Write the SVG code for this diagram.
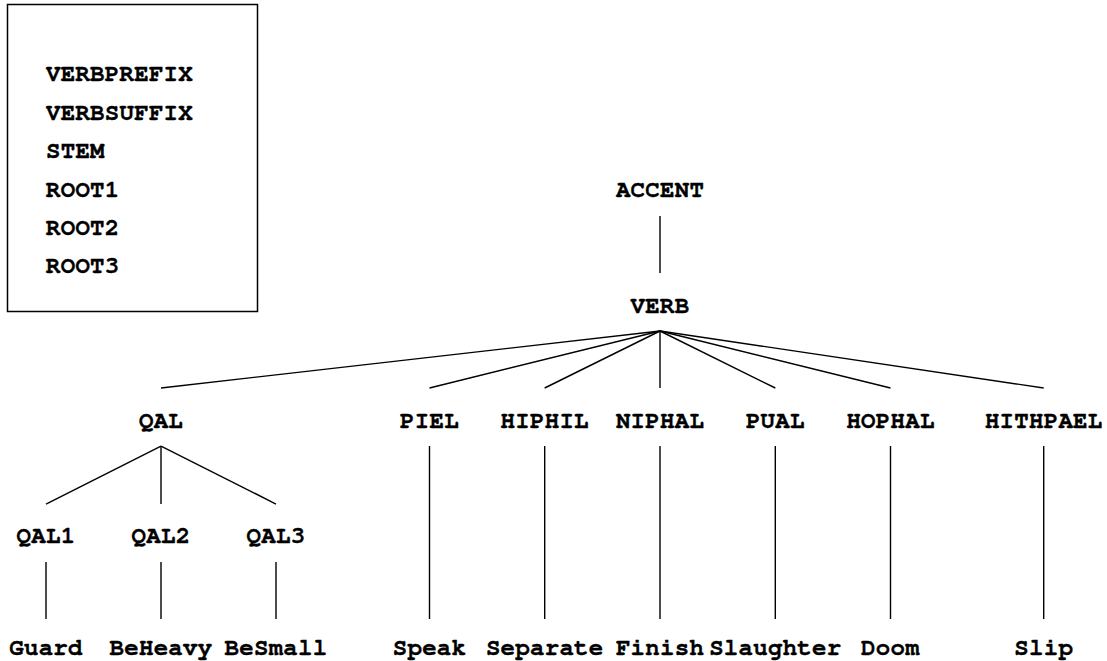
<svg xmlns="http://www.w3.org/2000/svg" width="1107" height="661" viewBox="0 0 1107 661">
  <style>
    text { font-family: "Nimbus Mono PS", "FreeMono", "Liberation Mono", monospace; font-weight: bold; font-size: 24px; letter-spacing: 0.3px; fill: #000; stroke: #000; stroke-width: 0.35; }
    .n text { text-anchor: middle; }
    .edge { stroke: #000; stroke-width: 1.4; fill: none; }
  </style>
  <rect width="1107" height="661" fill="#fff"/>

  <g id="legend">
    <rect x="7.5" y="4.5" width="250" height="307" fill="none" stroke="#000" stroke-width="1.5"/>
    <text x="46" y="81">VERBPREFIX</text>
    <text x="46" y="119.5">VERBSUFFIX</text>
    <text x="46" y="158">STEM</text>
    <text x="46" y="196.5">ROOT1</text>
    <text x="46" y="235">ROOT2</text>
    <text x="46" y="273">ROOT3</text>
  </g>

  <g id="connectors" class="edge">
    <line class="edge" x1="660" y1="216" x2="660" y2="273"/>
    <line class="edge" x1="660" y1="331" x2="161" y2="388"/>
    <line class="edge" x1="660" y1="331" x2="429.5" y2="388"/>
    <line class="edge" x1="660" y1="331" x2="544.7" y2="388"/>
    <line class="edge" x1="660" y1="331" x2="660" y2="388"/>
    <line class="edge" x1="660" y1="331" x2="775.3" y2="388"/>
    <line class="edge" x1="660" y1="331" x2="890.5" y2="388"/>
    <line class="edge" x1="660" y1="331" x2="1043.7" y2="388"/>
    <line class="edge" x1="161" y1="446" x2="46" y2="504"/>
    <line class="edge" x1="161" y1="446" x2="161" y2="504"/>
    <line class="edge" x1="161" y1="446" x2="276" y2="504"/>
    <line class="edge" x1="46" y1="562" x2="46" y2="619"/>
    <line class="edge" x1="161" y1="562" x2="161" y2="619"/>
    <line class="edge" x1="276" y1="562" x2="276" y2="619"/>
    <line class="edge" x1="429.5" y1="446" x2="429.5" y2="619"/>
    <line class="edge" x1="544.7" y1="446" x2="544.7" y2="619"/>
    <line class="edge" x1="660" y1="446" x2="660" y2="619"/>
    <line class="edge" x1="775.3" y1="446" x2="775.3" y2="619"/>
    <line class="edge" x1="890.5" y1="446" x2="890.5" y2="619"/>
    <line class="edge" x1="1043.7" y1="446" x2="1043.7" y2="619"/>
  </g>

  <g class="n">
    <g id="accent"><text x="660" y="197">ACCENT</text></g>
    <g id="verb"><text x="660" y="313">VERB</text></g>
    <g id="qal"><text x="161" y="427.5">QAL</text></g>
    <g id="piel"><text x="429.5" y="427.5">PIEL</text></g>
    <g id="hiphil"><text x="544.7" y="427.5">HIPHIL</text></g>
    <g id="niphal"><text x="660" y="427.5">NIPHAL</text></g>
    <g id="pual"><text x="775.3" y="427.5">PUAL</text></g>
    <g id="hophal"><text x="890.5" y="427.5">HOPHAL</text></g>
    <g id="hithpael"><text x="1043.7" y="427.5">HITHPAEL</text></g>
    <g id="qal1"><text x="46" y="542.5">QAL1</text></g>
    <g id="qal2"><text x="161" y="542.5">QAL2</text></g>
    <g id="qal3"><text x="276" y="542.5">QAL3</text></g>
    <g id="guard"><text x="46" y="655">Guard</text></g>
    <g id="beheavy"><text x="161" y="655">BeHeavy</text></g>
    <g id="besmall"><text x="276" y="655">BeSmall</text></g>
    <g id="speak"><text x="429.5" y="655">Speak</text></g>
    <g id="separate"><text x="544.7" y="655">Separate</text></g>
    <g id="finish"><text x="660" y="655">Finish</text></g>
    <g id="slaughter"><text x="775.3" y="655">Slaughter</text></g>
    <g id="doom"><text x="890.5" y="655">Doom</text></g>
    <g id="slip"><text x="1043.7" y="655">Slip</text></g>
  </g>
</svg>
